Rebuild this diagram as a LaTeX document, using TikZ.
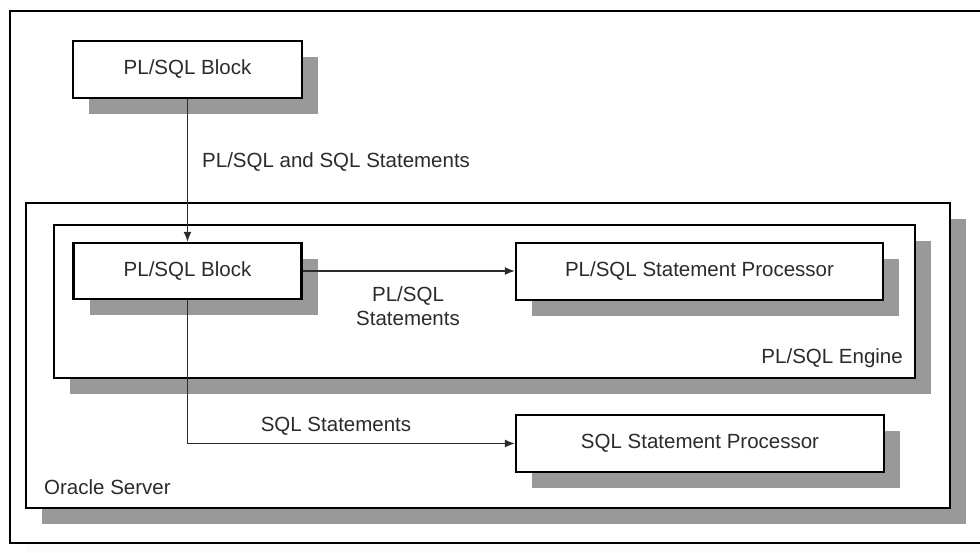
\documentclass[tikz,border=0pt]{standalone}
\usepackage{fontspec}
\setmainfont{Liberation Sans}
\usetikzlibrary{arrows.meta,shadows}
\definecolor{shade}{gray}{0.6}
\definecolor{ink}{gray}{0.17}
\begin{document}
\begin{tikzpicture}[x=1pt,y=-1pt,
  box/.style={draw=black, line width=2.4pt, fill=white, inner sep=0pt,
    font=\fontsize{20.5}{24}\selectfont, text=ink,
    drop shadow={shadow xshift=16pt, shadow yshift=-16pt, fill=shade, opacity=1}},
  lbl/.style={font=\fontsize{20.5}{24}\selectfont, text=ink, inner sep=0pt},
  conn/.style={draw=ink, line width=1.3pt, -{Latex[length=10pt,width=8pt]}}]
\useasboundingbox (0,0) rectangle (980,553);
\clip (0,0) rectangle (980,553);
% outer frame (cropped at the right and bottom)
\fill[shade] (25,26) rectangle (1015,562);
\draw[line width=2.4pt, fill=white] (10,11) rectangle (1000,543);
% containers
\node[box, minimum width=924pt, minimum height=305pt] (oracle) at (488,355.5) {};
\node[box, minimum width=861pt, minimum height=153pt] (engine) at (484.5,301.5) {};
% boxes
\node[box, minimum width=229pt, minimum height=57pt] (blk1) at (187.5,69.5) {PL/SQL Block};
\node[box, minimum width=228pt, minimum height=56pt] (blk2) at (187.5,271) {PL/SQL Block};
\node[box, minimum width=367pt, minimum height=57pt] (pproc) at (699.5,271.5) {PL/SQL Statement Processor};
\node[box, minimum width=368pt, minimum height=57pt] (sproc) at (700,443.5) {SQL Statement Processor};
% labels
\node[lbl, anchor=west] (l1) at (202,162) {PL/SQL and SQL Statements};
\node[lbl, align=center] (l2) at (408,306) {PL/SQL\\Statements};
\node[lbl] (l3) at (336,426) {SQL Statements};
\node[lbl, anchor=west] (l4) at (44,487) {Oracle Server};
\node[lbl, anchor=east] (l5) at (903,358) {PL/SQL Engine};
% connectors
\draw[conn] (blk1.south) -- (blk2.north);
\draw[conn] (blk2.east) -- (blk2.east -| pproc.west);
\draw[conn] (blk2.south) |- (sproc.west);
\end{tikzpicture}
\end{document}
